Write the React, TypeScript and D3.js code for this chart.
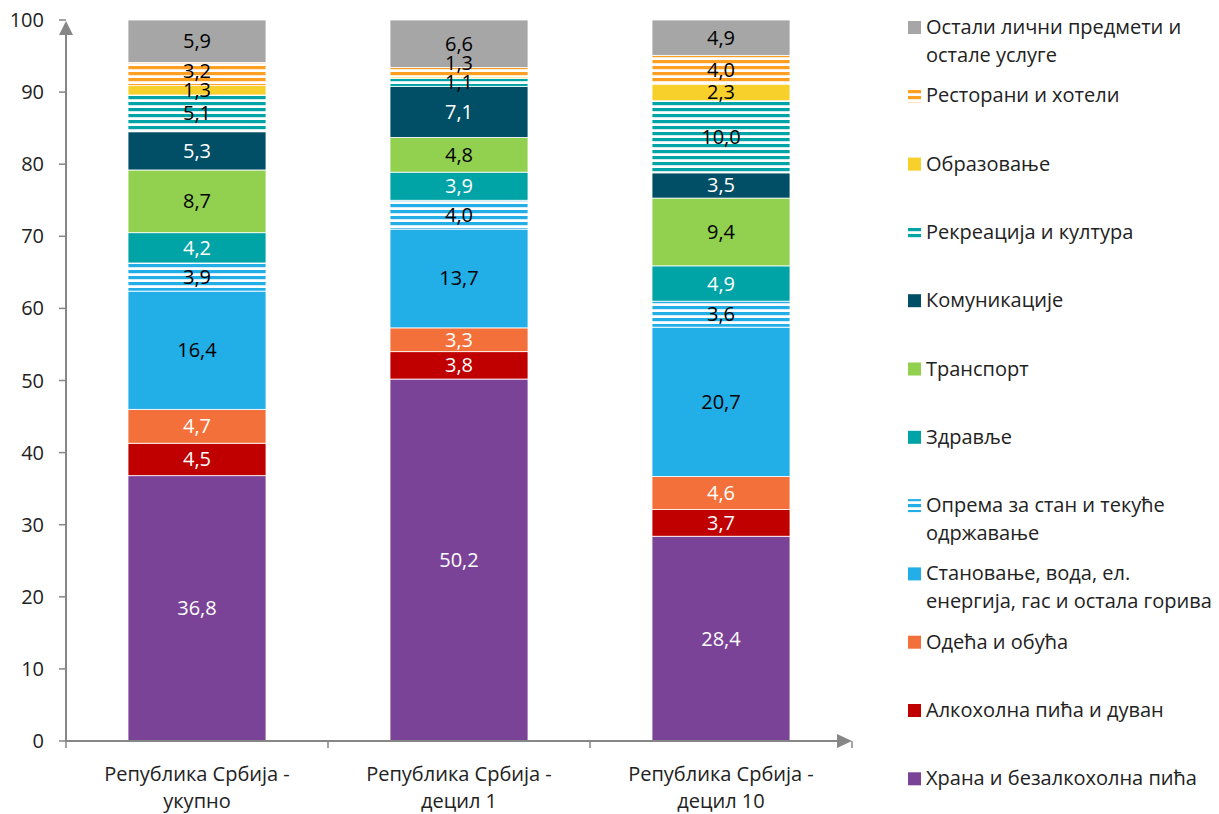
import React from "react";
import * as d3 from "d3";

const categories = ["Република Србија - укупно", "Република Србија - децил 1", "Република Србија - децил 10"];
const categoryLines = [["Република Србија -", "укупно"], ["Република Србија -", "децил 1"], ["Република Србија -", "децил 10"]];

const seriesNames = [
  "Храна и безалкохолна пића",
  "Алкохолна пића и дуван",
  "Одећа и обућа",
  "Становање, вода, ел. енергија, гас и остала горива",
  "Опрема за стан и текуће одржавање",
  "Здравље",
  "Транспорт",
  "Комуникације",
  "Рекреација и култура",
  "Образовање",
  "Ресторани и хотели",
  "Остали лични предмети и остале услуге",
];

const legendLines = [
  ["Храна и безалкохолна пића"],
  ["Алкохолна пића и дуван"],
  ["Одећа и обућа"],
  ["Становање, вода, ел.", "енергија, гас и остала горива"],
  ["Опрема за стан и текуће", "одржавање"],
  ["Здравље"],
  ["Транспорт"],
  ["Комуникације"],
  ["Рекреација и култура"],
  ["Образовање"],
  ["Ресторани и хотели"],
  ["Остали лични предмети и", "остале услуге"],
];

// values per series: [укупно, децил 1, децил 10]
const food = [36.8, 50.2, 28.4];
const alcohol = [4.5, 3.8, 3.7];
const clothing = [4.7, 3.3, 4.6];
const housing = [16.4, 13.7, 20.7];
const furnishing = [3.9, 4.0, 3.6];
const health = [4.2, 3.9, 4.9];
const transport = [8.7, 4.8, 9.4];
const communication = [5.3, 7.1, 3.5];
const recreation = [5.1, 1.1, 10.0];
const education = [1.3, 0.2, 2.3];
const restaurants = [3.2, 1.3, 4.0];
const other = [5.9, 6.6, 4.9];

const seriesValues = [food, alcohol, clothing, housing, furnishing, health, transport, communication, recreation, education, restaurants, other];

const colors = ["#7B4397", "#C00000", "#F4703A", "#22AEE6", "#22AEE6", "#00A3A6", "#92D050", "#014F66", "#00A3A6", "#F8D02C", "#FF9F22", "#A6A6A6"];
const striped = [false, false, false, false, true, false, false, false, true, false, true, false];
const labelColors = ["#fff", "#fff", "#fff", "#000", "#000", "#fff", "#000", "#fff", "#000", "#000", "#000", "#000"];

const yTicks = [0, 10, 20, 30, 40, 50, 60, 70, 80, 90, 100];

const FONT = "'Open Sans', 'Noto Sans', sans-serif";

export default function App() {
  const W = 1219, H = 814;
  const x0 = 66, x1 = 852, yBottom = 741, yTop = 20;
  const p = 1 - 138 / 262;
  const x = d3.scaleBand<string>().domain(categories).range([x0, x1]).paddingInner(p).paddingOuter(p / 2);
  const y = d3.scaleLinear().domain([0, 100]).range([yBottom, yTop]);

  const data = categories.map((c, i) => {
    const row: any = { cat: c };
    seriesNames.forEach((s, j) => (row[s] = seriesValues[j][i]));
    return row;
  });
  const stacked = d3.stack<any>().keys(seriesNames)(data);

  // label positions with simple overlap resolution
  const labels: { x: number; y: number; text: string; color: string }[] = [];
  categories.forEach((c, ci) => {
    let prevY = Infinity;
    stacked.forEach((layer, si) => {
      const d = layer[ci];
      const v = seriesValues[si][ci];
      if (v < 0.5) return;
      let ly = y((d[0] + d[1]) / 2);
      if (prevY - ly < 19) ly = prevY - 19;
      prevY = ly;
      labels.push({ x: (x(c) as number) + x.bandwidth() / 2, y: ly, text: d3.format(".1f")(v).replace(".", ","), color: labelColors[si] });
    });
  });

  const axisColor = "#868686";
  const legendX = 908;
  const legendY0 = 27;
  const legendStep = 68.3;
  const legendOrder = d3.range(seriesNames.length).reverse();

  return (
    <svg width={W} height={H} style={{ position: "absolute", left: 0, top: 0, background: "#fff" }} fontFamily={FONT}>
      <defs>
        {seriesNames.map((s, i) =>
          striped[i] ? (
            <pattern key={i} id={`pat${i}`} patternUnits="userSpaceOnUse" width={8} height={6}>
              <rect x={0} y={0} width={8} height={6} fill="#fff" />
              <rect x={0} y={0} width={8} height={3.2} fill={colors[i]} />
            </pattern>
          ) : null
        )}
      </defs>
      <g>
        {stacked.map((layer, si) =>
          layer.map((d, ci) => (
            <rect
              key={`${si}-${ci}`}
              x={x(categories[ci])}
              y={y(d[1])}
              width={x.bandwidth()}
              height={Math.max(0, y(d[0]) - y(d[1]))}
              fill={striped[si] ? `url(#pat${si})` : colors[si]}
              stroke="#fff"
              strokeWidth={0.8}
            />
          ))
        )}
      </g>
      <g fontSize={20} textAnchor="middle">
        {labels.map((l, i) => (
          <text key={i} x={l.x} y={l.y} dy="0.35em" fill={l.color}>
            {l.text}
          </text>
        ))}
      </g>
      {/* Y axis */}
      <g>
        <line x1={x0} x2={x0} y1={yBottom} y2={yTop + 8} stroke={axisColor} strokeWidth={2} />
        <path d={`M${x0},${yTop + 1} L${x0 - 7},${yTop + 15} L${x0 + 7},${yTop + 15} Z`} fill={axisColor} />
        {yTicks.map((t) => (
          <g key={t}>
            <line x1={x0 - 7} x2={x0} y1={y(t)} y2={y(t)} stroke={axisColor} strokeWidth={1.5} />
            <text x={44} y={y(t)} dy="0.35em" textAnchor="end" fontSize={20} fill="#222">
              {t}
            </text>
          </g>
        ))}
      </g>
      {/* X axis */}
      <g>
        <line x1={x0} x2={x1 - 8} y1={yBottom} y2={yBottom} stroke={axisColor} strokeWidth={2} />
        <path d={`M${x1},${yBottom} L${x1 - 15},${yBottom - 7} L${x1 - 15},${yBottom + 7} Z`} fill={axisColor} />
        {[0, 1, 2, 3].map((k) => {
          const xx = x0 + k * x.step();
          return <line key={k} x1={xx} x2={xx} y1={yBottom} y2={yBottom + 7} stroke={axisColor} strokeWidth={1.5} />;
        })}
        {categories.map((c, i) => (
          <text key={c} textAnchor="middle" fontSize={20} fill="#222">
            {categoryLines[i].map((ln, k) => (
              <tspan key={k} x={(x(c) as number) + x.bandwidth() / 2} y={774 + k * 27} dy="0.35em">
                {ln}
              </tspan>
            ))}
          </text>
        ))}
      </g>
      {/* Legend */}
      <g>
        {legendOrder.map((si, k) => {
          const ly = legendY0 + k * legendStep;
          return (
            <g key={si}>
              <rect x={legendX} y={ly - 6} width={13} height={13} fill={striped[si] ? `url(#pat${si})` : colors[si]} />
              <text fontSize={20} fill="#222">
                {legendLines[si].map((ln, j) => (
                  <tspan key={j} x={926} y={ly + j * 28} dy="0.35em">
                    {ln}
                  </tspan>
                ))}
              </text>
            </g>
          );
        })}
      </g>
    </svg>
  );
}
